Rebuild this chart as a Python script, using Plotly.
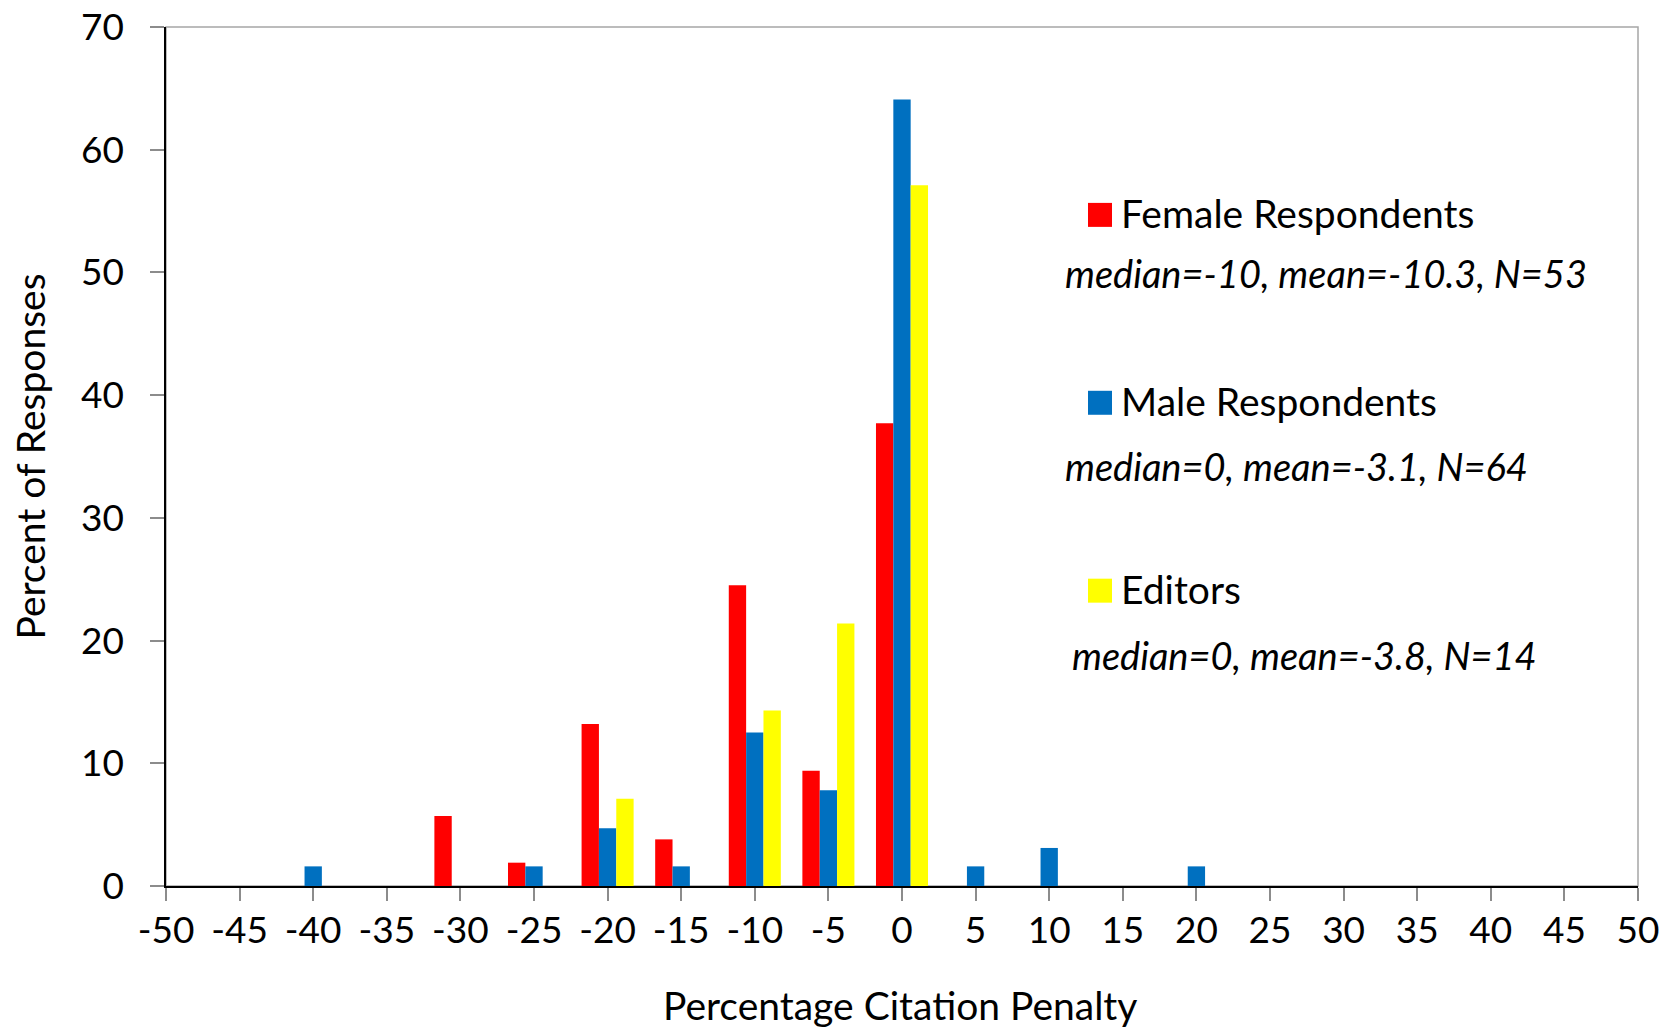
import plotly.graph_objects as go

# ---- data ----
penalty = [-50, -45, -40, -35, -30, -25, -20, -15, -10, -5, 0, 5, 10, 15, 20, 25, 30, 35, 40, 45, 50]
female = [0, 0, 0, 0, 5.7, 1.9, 13.2, 3.8, 24.5, 9.4, 37.7, 0, 0, 0, 0, 0, 0, 0, 0, 0, 0]
male = [0, 0, 1.6, 0, 0, 1.6, 4.7, 1.6, 12.5, 7.8, 64.1, 1.6, 3.1, 0, 1.6, 0, 0, 0, 0, 0, 0]
editors = [0, 0, 0, 0, 0, 0, 7.1, 0, 14.3, 21.4, 57.1, 0, 0, 0, 0, 0, 0, 0, 0, 0, 0]

series_names = ["Female Respondents", "Male Respondents", "Editors"]
series_stats = ["median=-10, mean=-10.3, N=53",
                "median=0, mean=-3.1, N=64",
                "median=0, mean=-3.8, N=14"]
series_colors = ["#FF0000", "#0070C0", "#FFFF00"]
y_ticks = [0, 10, 20, 30, 40, 50, 60, 70]

# ---- layout geometry (pixels in the 1665x1035 window; body margin removed below) ----
W, H = 1665, 1035
PL, PR, PT, PB = 166, 1638, 27, 886.5          # plot area edges in window pixels
L, R, T, B = PL, W - PR, PT, H - PB
PW = PR - PL
PH = PB - PT

def px(x):
    return (x - PL) / PW

def py(y):
    return (PB - y) / PH

FONT = "Lato, 'Open Sans', sans-serif"

fig = go.Figure()
for name, vals, col in zip(series_names, [female, male, editors], series_colors):
    fig.add_trace(go.Bar(x=penalty, y=vals, name=name, marker=dict(color=col, line=dict(width=0)),
                         showlegend=False))

shapes = [
    dict(type="rect", xref="paper", yref="paper", x0=0, x1=1, y0=0, y1=1,
         line=dict(color="#A6A6A6", width=1.5), layer="below"),
]
annotations = []

legend_rows = [(213, 273), (401, 466.5), (589, 655)]
stats_x = [1063, 1063, 1070]
for i, (name, stat, col) in enumerate(zip(series_names, series_stats, series_colors)):
    yc, ys = legend_rows[i]
    shapes.append(dict(type="rect", xref="paper", yref="paper",
                       x0=px(1088), x1=px(1112), y0=py(yc - 10), y1=py(yc + 14),
                       fillcolor=col, line=dict(width=0)))
    annotations.append(dict(xref="paper", yref="paper", x=px(1119), y=py(yc), text=name,
                            xanchor="left", yanchor="middle", showarrow=False,
                            font=dict(family=FONT, size=39, color="black")))
    annotations.append(dict(xref="paper", yref="paper", x=px(stats_x[i]), y=py(ys),
                            text="<i>" + stat + "</i>",
                            xanchor="left", yanchor="middle", showarrow=False,
                            font=dict(family=FONT, size=38, color="black")))

# axis titles
annotations.append(dict(xref="paper", yref="paper", x=0, y=0.5, xshift=-(PL - 29),
                        text="Percent of Responses", textangle=-90, showarrow=False,
                        xanchor="center", yanchor="middle",
                        font=dict(family=FONT, size=39, color="black")))
annotations.append(dict(xref="paper", yref="paper", x=px(900), y=0, yshift=-(1005 - PB),
                        text="Percentage Citation Penalty", showarrow=False,
                        xanchor="center", yanchor="middle",
                        font=dict(family=FONT, size=39, color="black")))

fig.update_layout(
    width=W, height=H, autosize=False,
    margin=dict(l=L, r=R, t=T, b=B, pad=0, autoexpand=False),
    paper_bgcolor="white", plot_bgcolor="white",
    barmode="group", bargap=0.293, bargroupgap=0,
    font=dict(family=FONT, color="black"),
    shapes=shapes, annotations=annotations,
    showlegend=False,
)
fig.update_xaxes(
    range=[-50, 50], tickmode="array", tickvals=penalty, ticktext=[str(v) for v in penalty],
    showgrid=False, zeroline=False, automargin=False, ticklabeloverflow="allow",
    showline=True, linecolor="black", linewidth=1.5,
    ticks="outside", ticklen=13, tickcolor="#8C8C8C", tickwidth=1.5,
    tickfont=dict(family=FONT, size=37, color="black"), ticklabelstandoff=-2,
)
fig.update_yaxes(
    range=[0, 70], tickmode="array", tickvals=y_ticks,
    showgrid=False, zeroline=False, automargin=False, ticklabeloverflow="allow",
    showline=True, linecolor="black", linewidth=1.5,
    ticks="outside", ticklen=14, tickcolor="#8C8C8C", tickwidth=1.5,
    tickfont=dict(family=FONT, size=37, color="black"), ticklabelstandoff=19,
)

fig.write_html("out.html", config={"displayModeBar": False},
               post_script="document.body.style.margin='0px';")
